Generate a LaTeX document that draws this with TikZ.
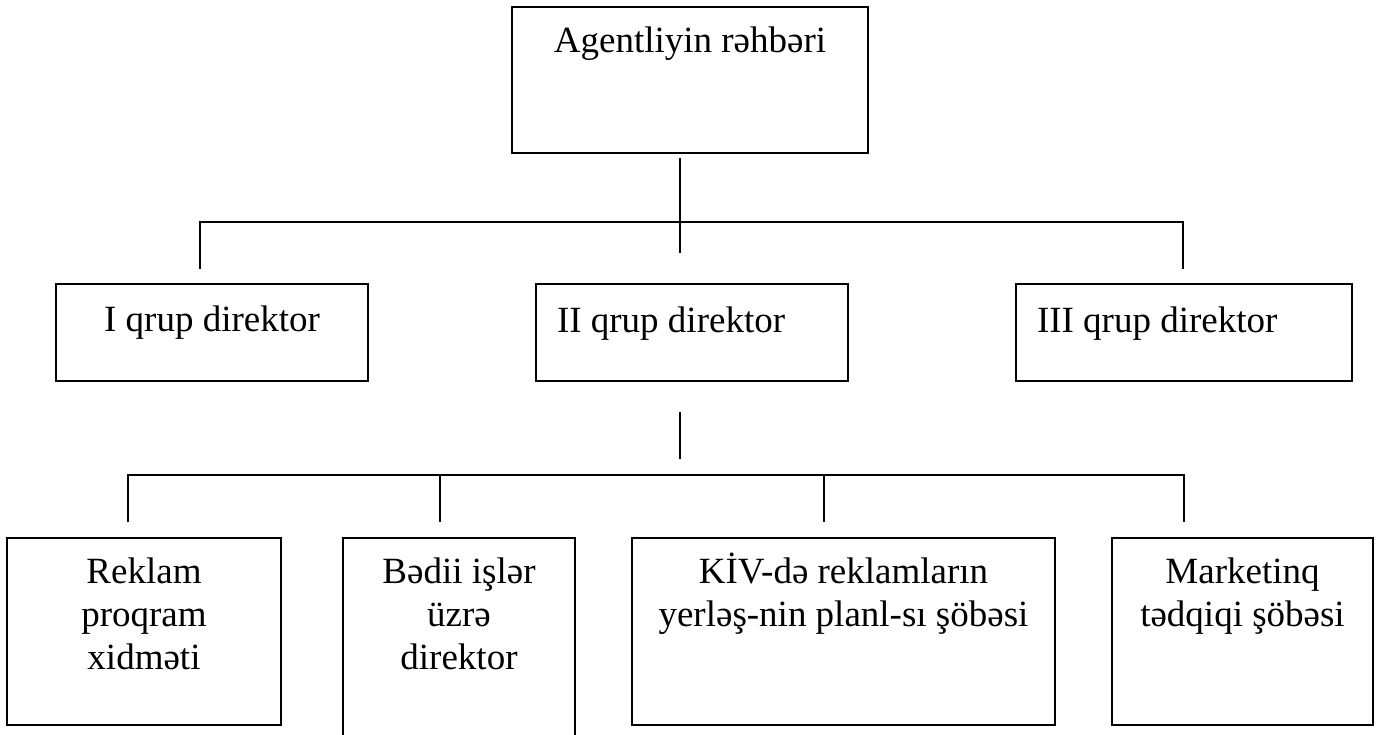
\documentclass[tikz,border=0pt]{standalone}
\usepackage{fontspec}
\setmainfont{Liberation Serif}
\begin{document}
\begin{tikzpicture}[x=1pt,y=-1pt,
  box/.style={draw, line width=1.6pt, anchor=north west, inner sep=0pt, outer sep=0pt},
  conn/.style={line width=1.6pt},
  lbl/.style={inner sep=0pt, outer sep=0pt, anchor=base, font=\fontsize{37}{43}\selectfont},
  lbll/.style={lbl, anchor=base west}]
\useasboundingbox (0,0) rectangle (1376,735);
% boxes
\node[box, minimum width=356pt, minimum height=146pt] (top) at (512,7) {};
\node[box, minimum width=312pt, minimum height=97pt] (g1) at (56,284) {};
\node[box, minimum width=312pt, minimum height=97pt] (g2) at (536,284) {};
\node[box, minimum width=336pt, minimum height=97pt] (g3) at (1016,284) {};
\node[box, minimum width=274pt, minimum height=187pt] (b1) at (7,538) {};
\node[box, minimum width=232pt, minimum height=210pt] (b2) at (343,538) {};
\node[box, minimum width=423pt, minimum height=187pt] (b3) at (632,538) {};
\node[box, minimum width=261pt, minimum height=187pt] (b4) at (1112,538) {};
% texts
\node[lbl] (ttop) at ([yshift=-46pt]top.north) {Agentliyin rəhbəri};
\node[lbl] (tg1) at ([yshift=-47pt]g1.north) {I qrup direktor};
\node[lbll] (tg2) at ([xshift=21pt,yshift=-48pt]g2.north west) {II qrup direktor};
\node[lbll] (tg3) at ([xshift=21pt,yshift=-48pt]g3.north west) {III qrup direktor};
\node[lbl] (tb1) at ([yshift=-45pt]b1.north) {\parbox[t]{274pt}{\centering Reklam\\proqram\\xidməti}};
\node[lbl] (tb2) at ([yshift=-45pt]b2.north) {\parbox[t]{232pt}{\centering Bədii işlər\\üzrə\\direktor}};
\node[lbl] (tb3) at ([yshift=-45pt]b3.north) {\parbox[t]{423pt}{\centering KİV-də reklamların\\yerləş-nin planl-sı şöbəsi}};
\node[lbl] (tb4) at ([yshift=-45pt]b4.north) {\parbox[t]{261pt}{\centering Marketinq\\tədqiqi şöbəsi}};
% connector coordinates
\coordinate (m0) at (680,158);
\coordinate (m1) at (680,253);
\coordinate (u0) at (200,222);
\coordinate (u1) at (1183,222);
\coordinate (d1) at (200,269);
\coordinate (d3) at (1183,269);
\coordinate (n0) at (680,412);
\coordinate (n1) at (680,459);
\coordinate (l0) at (128,475);
\coordinate (l1) at (1184,475);
\coordinate (e1) at (128,522);
\coordinate (f2) at (440,475);
\coordinate (e2) at (440,522);
\coordinate (f3) at (824,475);
\coordinate (e3) at (824,522);
\coordinate (e4) at (1184,522);
% connectors
\draw[conn] (m0) -- (m1);
\draw[conn] (d1) -- (u0) -- (u1) -- (d3);
\draw[conn] (n0) -- (n1);
\draw[conn] (e1) -- (l0) -- (l1) -- (e4);
\draw[conn] (f2) -- (e2);
\draw[conn] (f3) -- (e3);
\end{tikzpicture}
\end{document}
